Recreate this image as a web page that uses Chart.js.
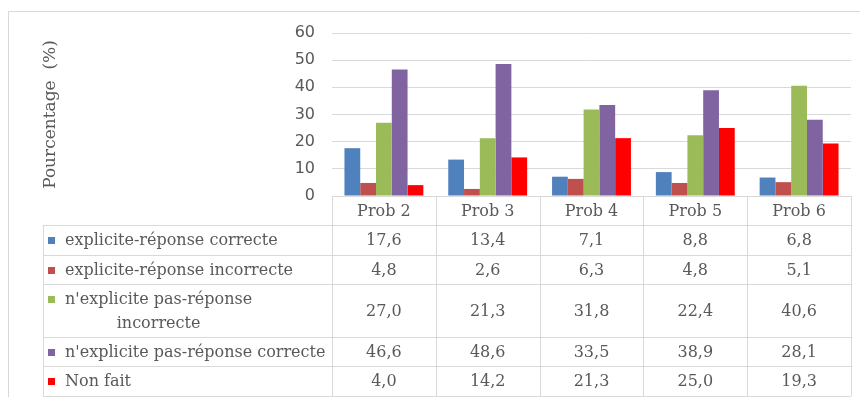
<!DOCTYPE html>
<html>
<head>
<meta charset="utf-8">
<script src="https://cdn.jsdelivr.net/npm/chart.js@4"></script>
<style>
    body { margin: 0; background: #fff; }
</style>
</head>
<body>
<canvas id="myBarChart" width="860" height="397"></canvas>
<script>
const categories = ['Prob 2', 'Prob 3', 'Prob 4', 'Prob 5', 'Prob 6'];
const seriesLabels = [
    'explicite-réponse correcte',
    'explicite-réponse incorrecte',
    "n'explicite pas-réponse\nincorrecte",
    "n'explicite pas-réponse correcte",
    'Non fait'
];
const explicitCorrect = [17.6, 13.4, 7.1, 8.8, 6.8];
const explicitIncorrect = [4.8, 2.6, 6.3, 4.8, 5.1];
const implicitIncorrect = [27.0, 21.3, 31.8, 22.4, 40.6];
const implicitCorrect = [46.6, 48.6, 33.5, 38.9, 28.1];
const notDone = [4.0, 14.2, 21.3, 25.0, 19.3];
const yMin = 0;
const yMax = 60;
const yStep = 10;

const seriesValues = [explicitCorrect, explicitIncorrect, implicitIncorrect, implicitCorrect, notDone];
const seriesColors = ['#4F81BD', '#C0504D', '#9BBB59', '#8064A2', '#FF0000'];

const gridColor = '#d9d9d9';
const textColor = '#595959';
const tableFont = '16px "DejaVu Serif"';

// bordures des lignes du tableau (en px)
const rowEdges = [225, 255, 284, 337, 366, 396];
const tableLeft = 43;

function formatValue(v) {
    return v.toFixed(1).replace('.', ',');
}

const tablePlugin = {
    id: 'dataTable',
    afterDraw(chart) {
        const ctx = chart.ctx;
        const area = chart.chartArea;
        const xScale = chart.scales.x;
        const colW = (area.right - area.left) / categories.length;
        const top = Math.round(area.bottom);
        const bottom = rowEdges[rowEdges.length - 1];

        ctx.save();

        // cadre extérieur
        ctx.strokeStyle = gridColor;
        ctx.lineWidth = 1;
        ctx.beginPath();
        ctx.moveTo(8, 11.5);
        ctx.lineTo(860, 11.5);
        ctx.moveTo(8.5, 11);
        ctx.lineTo(8.5, 397);
        ctx.stroke();

        // lignes horizontales
        ctx.beginPath();
        rowEdges.forEach(y => {
            ctx.moveTo(tableLeft, y + 0.5);
            ctx.lineTo(area.right, y + 0.5);
        });
        // lignes verticales
        ctx.moveTo(tableLeft + 0.5, rowEdges[0]);
        ctx.lineTo(tableLeft + 0.5, bottom);
        for (let i = 0; i <= categories.length; i++) {
            const xv = Math.round(area.left + i * colW) + 0.5;
            ctx.moveTo(xv, top);
            ctx.lineTo(xv, bottom);
        }
        ctx.stroke();

        ctx.font = tableFont;
        ctx.fillStyle = textColor;
        ctx.textBaseline = 'middle';
        ctx.textAlign = 'center';

        // en-têtes
        categories.forEach((c, i) => {
            ctx.fillText(c, xScale.getPixelForValue(i), (top + rowEdges[0]) / 2 + 1);
        });

        // lignes de données
        seriesLabels.forEach((label, r) => {
            const yMid = (rowEdges[r] + rowEdges[r + 1]) / 2 + 1;
            const lines = label.split('\n');
            const lineGap = 24;
            const firstY = yMid - (lines.length - 1) / 2 * lineGap;

            // petit carré de couleur sur la première ligne
            ctx.fillStyle = seriesColors[r];
            ctx.fillRect(48, Math.round(firstY) - 4, 7, 7);

            ctx.fillStyle = textColor;
            if (lines.length === 1) {
                ctx.textAlign = 'left';
                ctx.fillText(label, 65, yMid);
            } else {
                const w = ctx.measureText(lines[0]).width;
                const cx = 65 + w / 2;
                ctx.textAlign = 'center';
                lines.forEach((ln, k) => {
                    ctx.fillText(ln, cx, firstY + k * lineGap);
                });
            }

            ctx.textAlign = 'center';
            seriesValues[r].forEach((v, i) => {
                ctx.fillText(formatValue(v), xScale.getPixelForValue(i), yMid);
            });
        });

        ctx.restore();
    }
};

let barChart;

function initializeBarChart() {
    const ctx = document.getElementById('myBarChart').getContext('2d');
    barChart = new Chart(ctx, {
        type: 'bar',
        data: {
            labels: categories,
            datasets: seriesLabels.map((label, i) => ({
                label: label.replace('\n', ' '),
                data: seriesValues[i],
                backgroundColor: seriesColors[i],
                borderWidth: 0,
                categoryPercentage: 0.76,
                barPercentage: 1.0
            }))
        },
        options: {
            responsive: false,
            animation: false,
            layout: {
                padding: { top: 33, right: 9, bottom: 201, left: 0 }
            },
            plugins: {
                legend: { display: false },
                tooltip: { enabled: false }
            },
            scales: {
                x: {
                    display: false
                },
                y: {
                    min: yMin,
                    max: yMax,
                    ticks: {
                        stepSize: yStep,
                        padding: 17,
                        color: textColor,
                        font: { family: 'DejaVu Sans', size: 16 }
                    },
                    grid: {
                        color: gridColor,
                        drawTicks: false
                    },
                    border: { display: false },
                    title: {
                        display: true,
                        text: 'Pourcentage  (%)',
                        color: textColor,
                        font: { family: 'DejaVu Serif', size: 17 },
                        padding: { top: 40, bottom: 0 }
                    },
                    afterFit: function (scale) {
                        scale.width = 332;
                    }
                }
            }
        },
        plugins: [tablePlugin]
    });
}

window.onload = initializeBarChart;
</script>
</body>
</html>
